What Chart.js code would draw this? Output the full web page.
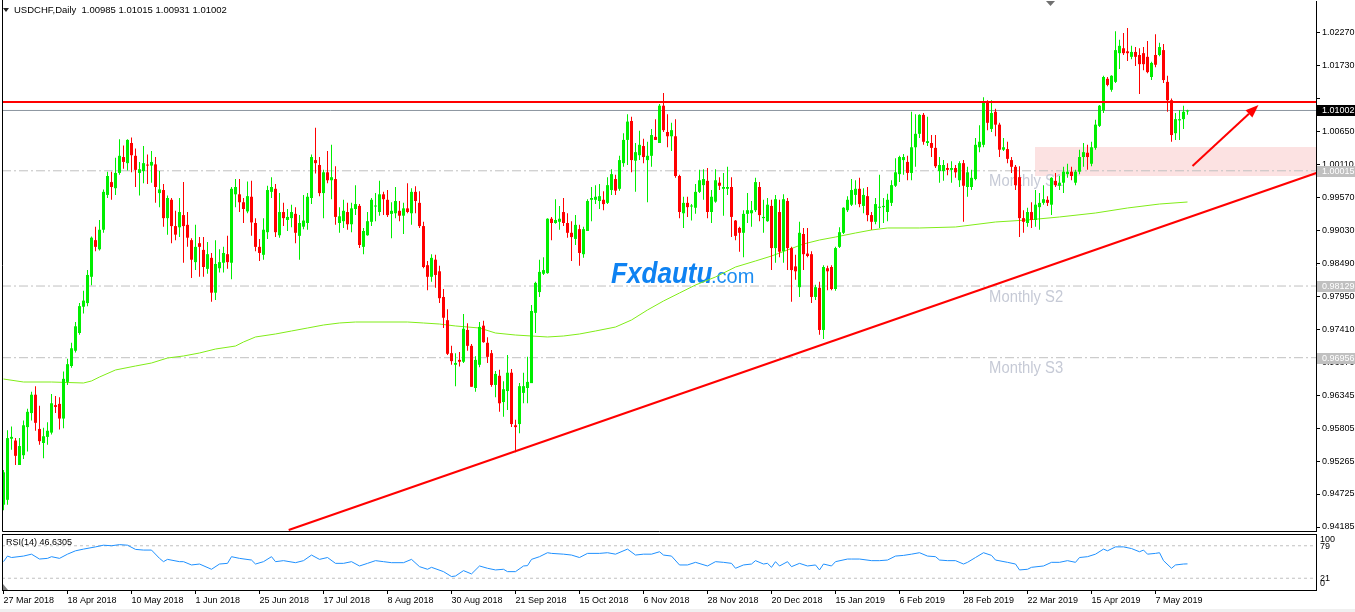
<!DOCTYPE html>
<html>
<head>
<meta charset="utf-8">
<title>USDCHF Daily</title>
<script src="https://cdn.jsdelivr.net/npm/chart.js@4.4.1/dist/chart.umd.min.js"></script>
<style>
  html, body { margin:0; padding:0; background:#ffffff; overflow:hidden; }
  #wrap { position:relative; width:1355px; height:612px; background:#fff; }
  #mainCanvas { position:absolute; left:0; top:0; }
  #rsiCanvas { position:absolute; left:0; top:533px; }
  #strip { position:absolute; left:0; top:609px; width:1355px; height:3px; background:#f0f0f0; }
</style>
</head>
<body>
<div id="wrap">
  <canvas id="mainCanvas" width="1355" height="533"></canvas>
  <canvas id="rsiCanvas" width="1355" height="79"></canvas>
  <div id="strip"></div>
</div>
<script>
// ---------------- DATA ----------------
const symbolTitle = 'USDCHF,Daily  1.00985 1.01015 1.00931 1.01002';
const rsiTitle = 'RSI(14) 46.6305';

const openP = [
0.9455,0.9463,0.9563,0.9560,0.9520,0.9536,0.9582,0.9605,0.9635,0.9579,
0.9556,0.9566,0.9573,0.9618,0.9620,0.9596,0.9656,0.9682,0.9707,0.9736,
0.9779,0.9785,0.9828,0.9888,0.9873,0.9905,0.9962,0.9983,0.9973,0.9998,
1.0024,1.0014,1.0047,1.0026,0.9998,1.0001,1.0011,1.0010,1.0012,0.9965,
0.9970,0.9924,0.9954,0.9911,0.9909,0.9929,0.9913,0.9888,0.9852,0.9883,
0.9872,0.9841,0.9859,0.9802,0.9842,0.9851,0.9865,0.9851,0.9963,0.9963,
0.9950,0.9935,0.9959,0.9916,0.9877,0.9864,0.9901,0.9967,0.9972,0.9896,
0.9934,0.9921,0.9924,0.9931,0.9895,0.9910,0.9916,0.9957,1.0019,1.0011,
0.9965,0.9999,0.9986,0.9988,0.9916,0.9919,0.9934,0.9914,0.9939,0.9944,
0.9877,0.9896,0.9918,0.9943,0.9934,0.9963,0.9954,0.9931,0.9932,0.9936,
0.9928,0.9940,0.9932,0.9967,0.9949,0.9911,0.9847,0.9828,0.9856,0.9837,
0.9795,0.9757,0.9703,0.9684,0.9692,0.9689,0.9741,0.9715,0.9646,0.9684,
0.9748,0.9720,0.9703,0.9651,0.9666,0.9623,0.9641,0.9671,0.9585,0.9587,
0.9638,0.9646,0.9654,0.9769,0.9803,0.9833,0.9834,0.9923,0.9916,0.9918,
0.9934,0.9916,0.9900,0.9890,0.9906,0.9865,0.9903,0.9954,0.9954,0.9952,
0.9954,0.9949,0.9970,0.9988,0.9972,1.0014,1.0052,1.0083,1.0018,1.0027,
1.0042,1.0019,1.0026,1.0057,1.0047,1.0108,1.0065,1.0058,1.0058,0.9993,
0.9932,0.9949,0.9943,0.9941,0.9967,0.9978,0.9985,0.9934,0.9951,0.9982,
0.9972,0.9972,0.9975,0.9920,0.9908,0.9900,0.9931,0.9932,0.9937,0.9975,
0.9924,0.9919,0.9944,0.9875,0.9934,0.9870,0.9952,0.9875,0.9845,0.9811,
0.9898,0.9866,0.9865,0.9795,0.9810,0.9741,0.9842,0.9844,0.9808,0.9877,
0.9900,0.9937,0.9946,0.9962,0.9972,0.9944,0.9960,0.9929,0.9918,0.9941,
0.9942,0.9934,0.9949,0.9977,0.9996,1.0019,1.0016,0.9998,1.0040,1.0062,
1.0093,1.0047,1.0047,1.0039,1.0001,1.0001,1.0006,1.0003,1.0006,0.9986,
1.0014,0.9975,0.9975,0.9988,1.0040,1.0044,1.0113,1.0070,1.0098,1.0077,
1.0036,1.0037,1.0019,1.0008,0.9991,0.9924,0.9916,0.9934,0.9921,0.9942,
0.9949,0.9954,0.9946,0.9985,0.9977,0.9982,0.9996,1.0000,0.9982,1.0000,
1.0024,1.0031,1.0013,1.0039,1.0075,1.0100,1.0152,1.0134,1.0147,1.0194,
1.0202,1.0197,1.0188,1.0196,1.0191,1.0194,1.0188,1.0155,1.0191,1.0191,
1.0199,1.0147,1.0117,1.0063,1.0084,1.0086,1.00985];

const highP = [
0.9512,0.9577,0.9583,0.9564,0.9564,0.9593,0.9612,0.9640,0.9649,0.9617,
0.9581,0.9590,0.9636,0.9633,0.9631,0.9673,0.9694,0.9720,0.9754,0.9785,
0.9805,0.9839,0.9894,0.9910,0.9921,0.9971,1.0000,1.0000,1.0023,1.0053,
1.0043,1.0053,1.0056,1.0038,1.0016,1.0042,1.0028,1.0034,1.0024,1.0001,
0.9980,0.9961,0.9957,0.9936,0.9957,0.9983,0.9934,0.9891,0.9913,0.9893,
0.9893,0.9885,0.9867,0.9888,0.9873,0.9877,0.9895,0.9975,0.9988,0.9988,
0.9957,0.9984,0.9985,0.9924,0.9890,0.9924,0.9977,0.9991,0.9980,0.9965,
0.9949,0.9939,0.9946,0.9942,0.9929,0.9962,0.9965,1.0028,1.0072,1.0024,
1.0003,1.0034,1.0044,1.0009,0.9942,0.9954,0.9949,0.9949,0.9978,0.9947,
0.9908,0.9934,0.9957,0.9965,0.9985,0.9967,0.9970,0.9950,0.9975,0.9952,
0.9949,0.9981,0.9973,0.9976,0.9968,0.9918,0.9854,0.9865,0.9864,0.9846,
0.9808,0.9775,0.9715,0.9703,0.9705,0.9767,0.9752,0.9718,0.9698,0.9754,
0.9756,0.9729,0.9708,0.9674,0.9676,0.9657,0.9700,0.9677,0.9594,0.9654,
0.9671,0.9697,0.9782,0.9820,0.9856,0.9860,0.9924,0.9926,0.9955,0.9944,
0.9957,0.9932,0.9919,0.9929,0.9913,0.9910,0.9955,0.9975,0.9978,0.9980,
0.9968,0.9991,1.0004,0.9995,1.0026,1.0063,1.0094,1.0090,1.0047,1.0067,
1.0054,1.0049,1.0070,1.0086,1.0111,1.0129,1.0094,1.0080,1.0086,0.9995,
0.9959,0.9959,0.9947,0.9980,1.0003,1.0004,1.0006,0.9970,1.0004,0.9991,
0.9998,1.0008,0.9991,0.9921,0.9910,0.9937,0.9965,0.9952,0.9990,0.9983,
0.9954,0.9957,0.9954,0.9962,0.9954,0.9963,0.9957,0.9877,0.9864,0.9918,
0.9908,0.9908,0.9870,0.9815,0.9820,0.9847,0.9846,0.9847,0.9877,0.9909,
0.9942,0.9960,0.9988,0.9986,0.9990,0.9973,0.9975,0.9934,0.9957,0.9995,
0.9957,0.9964,0.9986,1.0022,1.0026,1.0029,1.0026,1.0098,1.0094,1.0094,
1.0096,1.0090,1.0060,1.0060,1.0024,1.0019,1.0014,1.0017,1.0011,1.0017,
1.0019,1.0008,1.0003,1.0055,1.0076,1.0122,1.0117,1.0117,1.0103,1.0080,
1.0055,1.0049,1.0024,1.0011,1.0009,0.9937,0.9941,0.9950,0.9970,0.9965,
0.9978,0.9960,0.9991,0.9998,0.9993,1.0008,1.0013,1.0008,1.0003,1.0036,
1.0047,1.0044,1.0049,1.0085,1.0109,1.0157,1.0155,1.0158,1.0230,1.0216,
1.0227,1.0235,1.0206,1.0204,1.0202,1.0204,1.0214,1.0180,1.0225,1.0211,
1.0209,1.0157,1.0120,1.0096,1.0101,1.0108,1.01015];

const lowP = [
0.9446,0.9455,0.9545,0.9520,0.9520,0.9530,0.9542,0.9593,0.9576,0.9553,
0.9531,0.9553,0.9570,0.9605,0.9578,0.9580,0.9651,0.9679,0.9704,0.9733,
0.9768,0.9780,0.9814,0.9870,0.9871,0.9900,0.9957,0.9954,0.9962,0.9995,
1.0005,1.0002,0.9999,0.9975,0.9961,0.9981,0.9980,0.9982,0.9949,0.9942,
0.9910,0.9897,0.9883,0.9888,0.9893,0.9851,0.9877,0.9826,0.9839,0.9828,
0.9828,0.9833,0.9787,0.9790,0.9835,0.9835,0.9841,0.9824,0.9942,0.9934,
0.9916,0.9932,0.9895,0.9870,0.9854,0.9856,0.9890,0.9957,0.9893,0.9892,
0.9911,0.9903,0.9909,0.9883,0.9856,0.9906,0.9905,0.9947,0.9997,0.9960,
0.9924,0.9981,0.9955,0.9913,0.9900,0.9908,0.9905,0.9901,0.9929,0.9875,
0.9865,0.9895,0.9911,0.9919,0.9928,0.9929,0.9926,0.9891,0.9924,0.9919,
0.9898,0.9932,0.9913,0.9932,0.9908,0.9842,0.9806,0.9820,0.9810,0.9785,
0.9744,0.9700,0.9684,0.9649,0.9681,0.9687,0.9707,0.9648,0.9640,0.9680,
0.9720,0.9687,0.9648,0.9631,0.9607,0.9599,0.9610,0.9582,0.9541,0.9572,
0.9621,0.9621,0.9654,0.9736,0.9795,0.9831,0.9833,0.9888,0.9915,0.9905,
0.9911,0.9892,0.9854,0.9880,0.9846,0.9859,0.9903,0.9919,0.9947,0.9939,
0.9937,0.9947,0.9962,0.9962,0.9969,1.0008,1.0011,0.9999,0.9967,1.0019,
1.0014,0.9950,1.0008,1.0052,1.0047,1.0065,1.0040,1.0034,0.9990,0.9924,
0.9908,0.9926,0.9920,0.9931,0.9965,0.9954,0.9924,0.9916,0.9949,0.9970,
0.9928,0.9962,0.9893,0.9888,0.9869,0.9860,0.9916,0.9910,0.9934,0.9919,
0.9900,0.9918,0.9839,0.9851,0.9860,0.9851,0.9839,0.9787,0.9823,0.9795,
0.9839,0.9860,0.9785,0.9790,0.9733,0.9726,0.9806,0.9806,0.9805,0.9875,
0.9898,0.9934,0.9944,0.9946,0.9942,0.9932,0.9919,0.9905,0.9914,0.9908,
0.9916,0.9919,0.9944,0.9975,0.9983,0.9995,0.9986,0.9986,1.0008,1.0055,
1.0044,1.0042,1.0024,1.0006,0.9982,0.9985,0.9994,0.9982,0.9990,0.9975,
0.9918,0.9959,0.9970,0.9986,1.0032,1.0040,1.0068,1.0065,1.0058,1.0024,
1.0034,1.0014,0.9998,0.9970,0.9893,0.9900,0.9910,0.9908,0.9910,0.9905,
0.9946,0.9944,0.9929,0.9975,0.9970,0.9965,0.9990,0.9986,0.9978,0.9996,
1.0008,1.0003,1.0009,1.0036,1.0073,1.0096,1.0140,1.0131,1.0145,1.0168,
1.0191,1.0181,1.0184,1.0173,1.0127,1.0166,1.0161,1.0150,1.0171,1.0189,
1.0145,1.0098,1.0049,1.0052,1.0052,1.0070,1.00931];

const closeP = [
0.9508,0.9564,0.9566,0.9535,0.9551,0.9585,0.9607,0.9635,0.9589,0.9559,
0.9567,0.9576,0.9621,0.9615,0.9596,0.9661,0.9685,0.9711,0.9747,0.9780,
0.9789,0.9831,0.9892,0.9877,0.9905,0.9967,0.9993,0.9975,0.9998,1.0026,
1.0016,1.0052,1.0027,1.0003,1.0004,1.0014,1.0010,1.0016,0.9975,0.9971,
0.9924,0.9957,0.9911,0.9897,0.9934,0.9911,0.9892,0.9856,0.9877,0.9877,
0.9844,0.9865,0.9802,0.9849,0.9852,0.9867,0.9852,0.9972,0.9975,0.9950,
0.9939,0.9960,0.9917,0.9877,0.9867,0.9905,0.9970,0.9975,0.9901,0.9934,
0.9924,0.9926,0.9934,0.9900,0.9916,0.9920,0.9959,1.0024,1.0014,0.9965,
0.9999,0.9986,0.9991,0.9926,0.9927,0.9936,0.9914,0.9940,0.9947,0.9880,
0.9903,0.9919,0.9954,0.9944,0.9963,0.9955,0.9929,0.9936,0.9952,0.9928,
0.9940,0.9934,0.9967,0.9952,0.9911,0.9844,0.9828,0.9859,0.9831,0.9793,
0.9761,0.9702,0.9690,0.9687,0.9689,0.9743,0.9715,0.9648,0.9692,0.9746,
0.9721,0.9697,0.9651,0.9669,0.9621,0.9644,0.9671,0.9587,0.9582,0.9649,
0.9649,0.9656,0.9772,0.9818,0.9836,0.9839,0.9923,0.9916,0.9921,0.9923,
0.9916,0.9900,0.9893,0.9913,0.9867,0.9906,0.9952,0.9957,0.9959,0.9960,
0.9947,0.9978,0.9996,0.9969,1.0019,1.0052,1.0082,1.0019,1.0032,1.0044,
1.0024,1.0026,1.0060,1.0052,1.0108,1.0068,1.0058,1.0068,0.9993,0.9934,
0.9949,0.9942,0.9944,0.9967,0.9986,0.9988,0.9934,0.9959,0.9986,0.9977,
0.9975,0.9975,0.9926,0.9895,0.9900,0.9931,0.9937,0.9937,0.9983,0.9929,
0.9926,0.9946,0.9875,0.9955,0.9869,0.9955,0.9875,0.9839,0.9837,0.9900,
0.9865,0.9862,0.9795,0.9811,0.9741,0.9844,0.9837,0.9808,0.9875,0.9901,
0.9941,0.9954,0.9970,0.9972,0.9947,0.9962,0.9929,0.9918,0.9947,0.9942,
0.9944,0.9954,0.9978,0.9999,1.0024,1.0024,0.9998,1.0040,1.0062,1.0093,
1.0049,1.0050,1.0039,1.0009,1.0011,1.0011,1.0003,1.0006,0.9999,1.0014,
0.9977,0.9999,0.9990,1.0044,1.0049,1.0113,1.0080,1.0096,1.0077,1.0036,
1.0040,1.0021,1.0008,0.9978,0.9924,0.9918,0.9934,0.9921,0.9946,0.9949,
0.9955,0.9949,0.9990,0.9978,0.9982,1.0000,1.0000,0.9993,1.0000,1.0024,
1.0032,1.0024,1.0040,1.0077,1.0108,1.0155,1.0142,1.0157,1.0199,1.0206,
1.0194,1.0194,1.0196,1.0188,1.0176,1.0176,1.0163,1.0178,1.0175,1.0204,
1.0150,1.0117,1.0060,1.0086,1.0086,1.0098,1.01002];

// moving average: [bar, price]
const maPoints = [[0,0.96607],[5,0.96558],[12,0.96558],[20,0.96542],[22,0.96575],[24,0.96640],[28,0.96755],[33,0.96820],[37,0.96869],[41,0.96951],[45,0.96984],[49,0.97033],[53,0.97098],[58,0.97147],[60,0.97213],[63,0.97295],[68,0.97344],[72,0.97393],[76,0.97442],[80,0.97491],[84,0.97524],[88,0.97540],[101,0.97540],[105,0.97524],[109,0.97507],[113,0.97475],[119,0.97442],[123,0.97360],[128,0.97327],[132,0.97311],[136,0.97295],[140,0.97311],[144,0.97344],[148,0.97393],[153,0.97458],[157,0.97573],[161,0.97737],[165,0.97884],[169,0.98015],[173,0.98146],[178,0.98277],[183,0.98440],[188,0.98539],[192,0.98620],[196,0.98719],[200,0.98817],[204,0.98882],[208,0.98931],[213,0.98997],[217,0.99046],[221,0.99079],[229,0.99079],[238,0.99095],[248,0.99177],[256,0.99210],[264,0.99259],[273,0.99324],[281,0.99406],[289,0.99471],[296,0.99504]];

// RSI(14): [bar, value]
const rsiPoints = [[0,50.6],[1,60.6],[2,58],[5,60.6],[7,64],[9,55.3],[11,56.5],[12,59.5],[14,56.5],[16,64],[18,70],[20,73],[23,77],[25,80],[27,79],[29,81],[31,80],[33,72.5],[35,71.3],[37,71.3],[39,56.5],[40,50.6],[41,54.7],[44,50.6],[45,50.6],[47,44.7],[49,46.4],[52,37],[54,46.4],[56,47.6],[57,59.5],[59,56.5],[62,53.5],[63,46.4],[65,50.6],[67,59.5],[68,50.6],[70,52.4],[73,48.8],[75,52.4],[77,62.4],[79,54.7],[81,58],[83,47.6],[85,47.6],[87,50.6],[89,42.9],[91,47.6],[93,52.4],[95,50.6],[97,48.8],[100,48.8],[102,54.7],[104,41.7],[106,37],[107,40.5],[110,32.8],[112,24],[113,25],[115,34.6],[117,28.7],[119,42.9],[121,38.8],[123,35.8],[125,37],[126,32.8],[128,32.8],[130,42.9],[131,43.5],[132,54.7],[134,59.5],[136,66.6],[137,65.4],[140,64],[142,62.4],[144,58],[146,65.4],[149,65.4],[151,66.6],[153,64],[156,73],[158,62.4],[160,64],[162,64],[164,68.3],[165,62.4],[167,60.6],[169,44.7],[171,44.7],[173,49.4],[176,42.9],[178,50.6],[180,49.4],[182,47.6],[183,38.8],[185,44.7],[187,46.4],[188,52.4],[190,46.4],[191,47.6],[192,40.5],[193,50.6],[194,42.9],[196,50.6],[197,41.7],[199,47.6],[201,42.9],[203,44.7],[204,35.8],[205,46.4],[207,42.9],[208,50.6],[211,55.3],[212,55.3],[214,55.3],[217,52.4],[219,52.4],[221,53.5],[223,60.6],[225,61.8],[227,64],[229,66.6],[231,60.6],[233,59.5],[234,53.5],[236,52.4],[238,52.4],[240,46.4],[241,49.4],[243,58],[245,66.6],[247,61.8],[248,53.5],[251,49.4],[253,46.4],[254,35.8],[256,37],[257,40.5],[260,42.9],[262,49.4],[264,49.4],[266,52.4],[268,49.4],[269,58],[271,59.5],[273,64],[275,73],[276,70],[278,77],[280,77],[282,74],[284,68.3],[285,71.3],[286,64],[288,65.4],[289,66.6],[290,52.4],[292,38.8],[293,44.7],[295,46.4],[296,46.63]];

const priceTicks = [1.02270,1.01730,1.01190,1.00650,1.00110,0.99570,0.99030,0.98490,0.97950,0.97410,0.96870,0.96345,0.95805,0.95265,0.94725,0.94185];
const priceTickLabels = ['1.02270','1.01730','','1.00650','1.00110','0.99570','0.99030','0.98490','0.97950','0.97410','0.96870','0.96345','0.95805','0.95265','0.94725','0.94185'];
const dateTickBars = [0,16,32,48,64,80,96,112,128,144,160,176,192,208,224,240,256,272,288];
const dateLabels = ['27 Mar 2018','18 Apr 2018','10 May 2018','1 Jun 2018','25 Jun 2018','17 Jul 2018','8 Aug 2018','30 Aug 2018','21 Sep 2018','15 Oct 2018','6 Nov 2018','28 Nov 2018','20 Dec 2018','15 Jan 2019','6 Feb 2019','28 Feb 2019','22 Mar 2019','15 Apr 2019','7 May 2019'];
const pivotVals = [1.00015, 0.98129, 0.96956];
const pivotLabels = ['1.00015','0.98129','0.96956'];
const pivotNames = ['Monthly S1','Monthly S2','Monthly S3'];
const pivotTextBar = 246.4;
const bidPrice = 1.01002;
const bidLabel = '1.01002';
const resistanceLevel = 1.01141;
const trendBars = [71.3, 330];
const trendVals = [0.94136, 1.00019];
const arrowBars = [297.25, 313.75];
const arrowVals = [1.00093, 1.01092];
const zoneBars = [257.875, 330];
const zoneVals = [0.99930, 1.00404];
const rsiLevels = [79, 21];
const rsiAxisVals = [100, 79, 21, 0];
const rsiAxisLabels = ['100','79','21','0'];

// ---------------- VIEW ----------------
const X_MIN = -0.375, X_MAX = 328.125;
const Y_MIN = 0.941197, Y_MAX = 1.027937;
const FONT = '"Liberation Sans", Arial, sans-serif';
const BULL = '#00EE00', BEAR = '#FF0000';

Chart.defaults.font.family = FONT;
Chart.defaults.font.size = 9;
Chart.defaults.color = '#000';

const n = Math.min(openP.length, highP.length, lowP.length, closeP.length);
const idx = Array.from({length:n}, (_, i) => i);
const candleColors = idx.map(i => closeP[i] >= openP[i] ? BULL : BEAR);
const hline = v => [{x:X_MIN, y:v}, {x:X_MAX, y:v}];
const barCommon = { type:'bar', grouped:false, categoryPercentage:1, barPercentage:1, inflateAmount:0, borderWidth:0 };
const lineCommon = { type:'line', pointRadius:0, pointHoverRadius:0, tension:0, fill:false };

const mainDeco = {
  id:'mainDeco',
  beforeDatasetsDraw(chart) {
    const {ctx, chartArea:a, scales:{x, y}} = chart;
    ctx.save();
    ctx.beginPath(); ctx.rect(a.left, a.top, a.right - a.left, a.bottom - a.top); ctx.clip();
    // support zone
    const zx0 = x.getPixelForValue(zoneBars[0]), zx1 = x.getPixelForValue(zoneBars[1]);
    const zy0 = y.getPixelForValue(zoneVals[1]), zy1 = y.getPixelForValue(zoneVals[0]);
    ctx.fillStyle = 'rgb(252,226,226)';
    ctx.fillRect(Math.round(zx0), Math.round(zy0), Math.round(zx1 - zx0), Math.round(zy1 - zy0));
    // watermark
    ctx.save();
    ctx.translate(611, 283);
    ctx.scale(0.9, 1);
    ctx.font = 'italic bold 29px ' + FONT;
    ctx.fillStyle = '#0E82F2';
    ctx.textBaseline = 'alphabetic';
    ctx.fillText('Fxdautu', 0, 0);
    ctx.restore();
    ctx.font = '20px ' + FONT;
    ctx.fillStyle = '#1A8CF2';
    ctx.textBaseline = 'alphabetic';
    ctx.fillText('.com', 711, 283);
    // pivot names
    ctx.fillStyle = 'rgb(198,202,214)';
    ctx.font = '16px ' + FONT;
    pivotVals.forEach((v, k) => {
      const py = y.getPixelForValue(v);
      ctx.save();
      ctx.translate(x.getPixelForValue(pivotTextBar), py + 15.5);
      ctx.scale(0.925, 1);
      ctx.fillText(pivotNames[k], 0, 0);
      ctx.restore();
    });
    ctx.restore();
  },
  afterDatasetsDraw(chart) {
    const {ctx, chartArea:a, scales:{x, y}} = chart;
    ctx.save();
    ctx.beginPath(); ctx.rect(a.left, a.top, a.right - a.left, a.bottom - a.top); ctx.clip();
    const ax0 = x.getPixelForValue(arrowBars[0]), ay0 = y.getPixelForValue(arrowVals[0]);
    const ax1 = x.getPixelForValue(arrowBars[1]), ay1 = y.getPixelForValue(arrowVals[1]);
    const ang = Math.atan2(ay1 - ay0, ax1 - ax0);
    const hl = 13, hw = 5;
    const bx = ax1 - hl * Math.cos(ang), by = ay1 - hl * Math.sin(ang);
    ctx.strokeStyle = '#FF0000'; ctx.lineWidth = 2;
    ctx.beginPath(); ctx.moveTo(ax0, ay0); ctx.lineTo(bx, by); ctx.stroke();
    ctx.fillStyle = '#FF0000';
    ctx.beginPath();
    ctx.moveTo(ax1, ay1);
    ctx.lineTo(bx + hw * Math.sin(ang), by - hw * Math.cos(ang));
    ctx.lineTo(bx - hw * Math.sin(ang), by + hw * Math.cos(ang));
    ctx.closePath(); ctx.fill();
    ctx.restore();
  },
  afterDraw(chart) {
    const {ctx, chartArea:a, scales:{y}} = chart;
    ctx.save();
    // frame
    ctx.strokeStyle = '#000'; ctx.lineWidth = 1;
    ctx.beginPath();
    ctx.moveTo(a.left + 0.5, 0); ctx.lineTo(a.left + 0.5, a.bottom + 0.5);
    ctx.lineTo(a.right + 0.5, a.bottom + 0.5);
    ctx.stroke();
    // price boxes
    const box = (v, text, bg) => {
      const yy = Math.round(y.getPixelForValue(v));
      ctx.fillStyle = bg;
      ctx.fillRect(a.right + 1, yy - 5, 1355 - a.right - 1, 11);
      ctx.fillStyle = '#FFFFFF';
      ctx.font = '9px ' + FONT;
      ctx.textBaseline = 'middle'; ctx.textAlign = 'left';
      ctx.fillText(text, a.right + 6, yy + 0.5);
    };
    pivotVals.forEach((v, k) => box(v, pivotLabels[k], '#C0C0C0'));
    box(bidPrice, bidLabel, '#000000');
    // header
    ctx.fillStyle = '#222';
    ctx.beginPath(); ctx.moveTo(3, 8); ctx.lineTo(9, 8); ctx.lineTo(6, 12); ctx.closePath(); ctx.fill();
    ctx.fillStyle = '#000';
    ctx.font = '9.5px ' + FONT;
    ctx.textBaseline = 'middle'; ctx.textAlign = 'left';
    ctx.fillText(symbolTitle, 14, 10.5);
    // chart shift marker
    ctx.fillStyle = '#707070';
    ctx.beginPath(); ctx.moveTo(1046, 1); ctx.lineTo(1055, 1); ctx.lineTo(1050.5, 6); ctx.closePath(); ctx.fill();
    ctx.restore();
  }
};

new Chart(document.getElementById('mainCanvas'), {
  type: 'bar',
  data: {
    datasets: [
      { ...lineCommon, label:'Trend', data: trendBars.map((b, i) => ({x:b, y:trendVals[i]})), borderColor:'#FF0000', borderWidth:2, order:0 },
      { ...lineCommon, label:'Resistance', data: hline(resistanceLevel), borderColor:'#FF0000', borderWidth:2, order:1 },
      { ...barCommon, label:'Body', data: idx.map(i => ({x:i, y:[openP[i], closeP[i]]})), backgroundColor:candleColors, maxBarThickness:3, minBarLength:1, order:2 },
      { ...barCommon, label:'Wick', data: idx.map(i => ({x:i, y:[lowP[i], highP[i]]})), backgroundColor:candleColors, maxBarThickness:1, minBarLength:1, order:3 },
      { ...lineCommon, label:'Bid', data: hline(bidPrice), borderColor:'#8C96A0', borderWidth:1, order:4 },
      { ...lineCommon, label:'MA', data: maPoints.map(p => ({x:p[0], y:p[1]})), borderColor:'rgb(128,236,24)', borderWidth:1, order:5 },
      ...pivotVals.map((v, k) => ({ ...lineCommon, label:pivotNames[k], data: hline(v), borderColor:'#C0C0C0', borderWidth:1, borderDash:[9,3,2,3], order:6 }))
    ]
  },
  options: {
    responsive:false, animation:false, events:[],
    layout:{ padding:{left:2, right:0, top:1, bottom:2} },
    plugins:{ legend:{display:false}, tooltip:{enabled:false} },
    scales:{
      x:{ type:'linear', display:false, min:X_MIN, max:X_MAX, offset:false,
          afterBuildTicks: s => { s.ticks = dateTickBars.map(v => ({value:v})); } },
      y:{ type:'linear', position:'right', min:Y_MIN, max:Y_MAX,
          afterBuildTicks: s => { s.ticks = priceTicks.map(v => ({value:v})); },
          afterFit: s => { s.width = 39; s.paddingTop = 0; s.paddingBottom = 0; },
          ticks:{ autoSkip:false, padding:2, color:'#000', font:{family:FONT, size:9}, callback:(v, i) => priceTickLabels[i] },
          grid:{ drawOnChartArea:false, drawTicks:true, tickLength:4, color:'#000' },
          border:{ display:true, color:'#000', width:1 } }
    }
  },
  plugins:[mainDeco]
});

const rsiDeco = {
  id:'rsiDeco',
  afterDraw(chart) {
    const {ctx, chartArea:a, scales:{y}} = chart;
    ctx.save();
    ctx.strokeStyle = '#000'; ctx.lineWidth = 1;
    ctx.strokeRect(a.left + 0.5, a.top + 0.5, a.right - a.left, a.bottom - a.top);
    ctx.fillStyle = '#000';
    ctx.font = '9px ' + FONT;
    ctx.textBaseline = 'middle'; ctx.textAlign = 'left';
    ctx.fillText(rsiTitle, 6, a.top + 8.5);
    const offs = [6, 0.5, 0, -6.5];
    rsiAxisVals.forEach((v, k) => {
      ctx.fillText(rsiAxisLabels[k], a.right + 4, y.getPixelForValue(v) + offs[k]);
    });
    ctx.fillStyle = '#808080';
    ctx.beginPath(); ctx.moveTo(a.left + 1, a.bottom - 6); ctx.lineTo(a.left + 1, a.bottom); ctx.lineTo(a.left + 6, a.bottom); ctx.closePath(); ctx.fill();
    ctx.restore();
  }
};

new Chart(document.getElementById('rsiCanvas'), {
  type: 'line',
  data: {
    datasets: [
      { ...lineCommon, label:'RSI(14)', data: rsiPoints.map(p => ({x:p[0], y:p[1]})), borderColor:'#1E90FF', borderWidth:1, order:0 },
      ...rsiLevels.map(v => ({ ...lineCommon, label:'level ' + v, data: hline(v), borderColor:'#C0C0C0', borderWidth:1, borderDash:[3,3], order:1 }))
    ]
  },
  options: {
    responsive:false, animation:false, events:[],
    layout:{ padding:{left:2, right:0, top:1, bottom:0} },
    plugins:{ legend:{display:false}, tooltip:{enabled:false} },
    scales:{
      x:{ type:'linear', min:X_MIN, max:X_MAX, offset:false,
          afterBuildTicks: s => { s.ticks = dateTickBars.map(v => ({value:v})); },
          afterFit: s => { s.height = 22; s.paddingLeft = 0; s.paddingRight = 0; },
          ticks:{ autoSkip:false, maxRotation:0, minRotation:0, align:'start', padding:1, color:'#000', font:{family:FONT, size:9}, callback:(v, i) => dateLabels[i] },
          grid:{ drawOnChartArea:false, drawTicks:true, tickLength:4, color:'#000' },
          border:{ display:true, color:'#000' } },
      y:{ type:'linear', position:'right', min:0, max:100,
          afterFit: s => { s.width = 39; s.paddingTop = 0; s.paddingBottom = 0; },
          ticks:{ display:false }, grid:{ display:false },
          border:{ display:true, color:'#000' } }
    }
  },
  plugins:[rsiDeco]
});
</script>
</body>
</html>
